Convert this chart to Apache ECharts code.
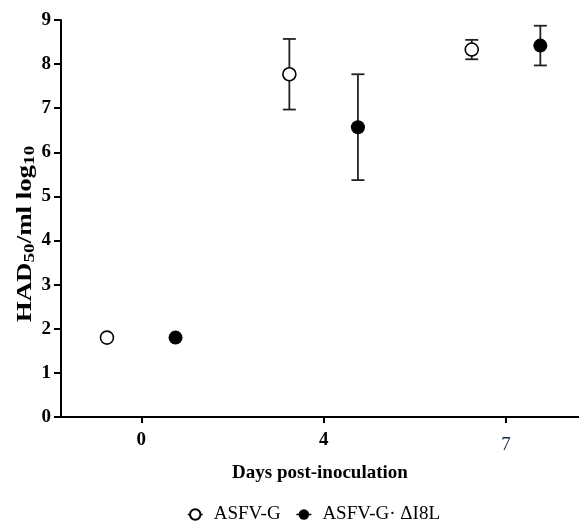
<!DOCTYPE html>
<html>
<head>
<meta charset="utf-8">
<script src="https://cdn.jsdelivr.net/npm/echarts@6/dist/echarts.min.js"></script>
<style>
  html, body { margin: 0; padding: 0; background: #fff; }
  #chart { width: 579px; height: 525px; }
</style>
</head>
<body>
<div id="chart"></div>
<script>
// Days post-inoculation shown as evenly spaced groups
const days = ['0', '4', '7'];
const yTicks = [0, 1, 2, 3, 4, 5, 6, 7, 8, 9];

// Virus titre (HAD50/ml log10): mean and SD per day
const asfvG = [1.8, 7.77, 8.33];
const asfvGSd = [0, 0.8, 0.22];
const deltaI8L = [1.8, 6.57, 8.42];
const deltaI8LSd = [0, 1.2, 0.45];

const seriesNames = ['ASFV-G', 'ASFV-G· ΔI8L'];
const dodge = 0.188;
const FONT = 'Liberation Serif';

function points(values, offset) {
  return values.map((v, i) => [i + offset, v]);
}
function bars(values, sds, offset) {
  return values
    .map((v, i) => [i + offset, v, v - sds[i], v + sds[i], sds[i]])
    .filter(d => d[4] > 0);
}

function renderErrorBar(params, api) {
  const x = api.value(0);
  const lo = api.coord([x, api.value(2)]);
  const hi = api.coord([x, api.value(3)]);
  const half = 6.5;
  const style = { stroke: '#222', lineWidth: 1.8 };
  return {
    type: 'group',
    children: [
      { type: 'line', shape: { x1: lo[0], y1: lo[1], x2: hi[0], y2: hi[1] }, style },
      { type: 'line', shape: { x1: hi[0] - half, y1: hi[1], x2: hi[0] + half, y2: hi[1] }, style },
      { type: 'line', shape: { x1: lo[0] - half, y1: lo[1], x2: lo[0] + half, y2: lo[1] }, style }
    ]
  };
}

const chart = echarts.init(document.getElementById('chart'), null, { renderer: 'canvas' });

chart.setOption({
  animation: false,
  backgroundColor: '#fff',
  grid: { left: 61, right: 0, top: 20, bottom: 108, outerBoundsMode: 'none' },
  legend: {
    data: seriesNames,
    left: 182,
    top: 500,
    itemWidth: 15,
    itemHeight: 13,
    itemGap: 15,
    lineStyle: { width: 1.5, color: '#000', opacity: 1 },
    textStyle: { fontFamily: FONT, fontSize: 19, color: '#000', padding: [0, 0, 0, 6] }
  },
  // rotated y-axis title with subscripts
  graphic: [{
    type: 'text',
    x: 26,
    y: 234,
    rotation: Math.PI / 2,
    scaleX: 1.28,
    style: {
      text: '{b|HAD}{s|50}{b|/ml log}{s|10}',
      align: 'center',
      verticalAlign: 'middle',
      rich: {
        b: { fontFamily: FONT, fontSize: 21, fontWeight: 'bold', fill: '#000' },
        s: { fontFamily: FONT, fontSize: 15, fontWeight: 'bold', fill: '#000', padding: [9, 0, 0, 0] }
      }
    }
  }],
  xAxis: {
    type: 'value',
    min: -0.44,
    max: 2.4,
    name: 'Days post-inoculation',
    nameLocation: 'middle',
    nameGap: 47,
    nameTextStyle: { fontFamily: FONT, fontSize: 19, fontWeight: 'bold', color: '#000' },
    splitLine: { show: false },
    axisLine: { onZero: false, lineStyle: { color: '#000', width: 2 } },
    axisTick: { show: true, customValues: [0, 1, 2], length: 6, lineStyle: { color: '#000', width: 2 } },
    axisLabel: {
      customValues: [0, 1, 2],
      margin: 14,
      fontFamily: FONT,
      fontSize: 19,
      fontWeight: 'bold',
      color: '#000',
      formatter: v => {
        const i = Math.round(v);
        return i === 2 ? '{alt|' + days[i] + '}' : days[i];
      },
      rich: {
        alt: { fontFamily: FONT, fontSize: 19, fontWeight: 'normal', color: '#1c2b4a', padding: [5, 0, 0, 0] }
      }
    }
  },
  yAxis: {
    type: 'value',
    min: 0,
    max: 9,
    interval: 1,
    splitLine: { show: false },
    axisLine: { show: true, onZero: false, lineStyle: { color: '#000', width: 2 } },
    axisTick: { show: true, length: 7, lineStyle: { color: '#000', width: 2 } },
    axisLabel: {
      margin: 10,
      fontFamily: FONT,
      fontSize: 19,
      fontWeight: 'bold',
      color: '#000',
      formatter: v => String(yTicks[Math.round(v)])
    }
  },
  series: [
    {
      type: 'custom',
      name: seriesNames[0] + ' SD',
      renderItem: renderErrorBar,
      encode: { x: 0, y: [1, 2, 3] },
      data: bars(asfvG, asfvGSd, -dodge),
      z: 1,
      silent: true
    },
    {
      type: 'custom',
      name: seriesNames[1] + ' SD',
      renderItem: renderErrorBar,
      encode: { x: 0, y: [1, 2, 3] },
      data: bars(deltaI8L, deltaI8LSd, dodge),
      z: 1,
      silent: true
    },
    {
      type: 'line',
      name: seriesNames[0],
      data: points(asfvG, -dodge),
      symbol: 'circle',
      symbolSize: 13,
      showSymbol: true,
      lineStyle: { width: 0, opacity: 0 },
      itemStyle: { color: '#fff', borderColor: '#000', borderWidth: 1.6 },
      z: 3
    },
    {
      type: 'line',
      name: seriesNames[1],
      data: points(deltaI8L, dodge),
      symbol: 'circle',
      symbolSize: 14,
      showSymbol: true,
      lineStyle: { width: 0, opacity: 0 },
      itemStyle: { color: '#000', borderColor: '#000', borderWidth: 0 },
      z: 3
    }
  ]
});
</script>
</body>
</html>
